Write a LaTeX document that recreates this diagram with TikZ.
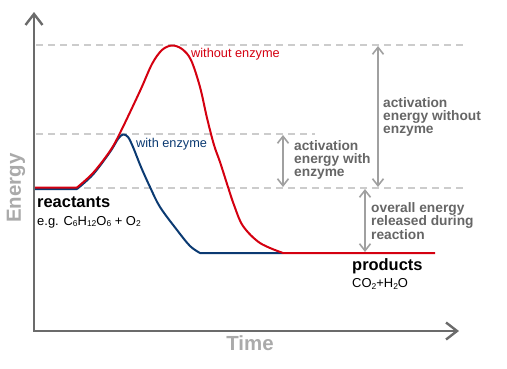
\documentclass[tikz,border=0pt]{standalone}
\usepackage{fontspec}
\setmainfont{Liberation Sans}
\usetikzlibrary{arrows.meta}

\definecolor{axisgray}{HTML}{6B6B6B}
\definecolor{dashgray}{HTML}{CCCCCC}
\definecolor{arrowgray}{HTML}{A0A0A0}
\definecolor{labelgray}{HTML}{666666}
\definecolor{titlegray}{HTML}{AAAAAA}
\definecolor{curvered}{HTML}{D40010}
\definecolor{curveblue}{HTML}{0B3A72}

\newcommand{\lowsub}[1]{\raisebox{-0.25ex}{\fontsize{8.5}{8.5}\selectfont #1}}

\begin{document}
\begin{tikzpicture}[x=1bp,y=-1bp,
  axis/.style={line width=2.4bp,axisgray,{Straight Barb[length=11bp,width=17bp]}-{Straight Barb[length=11bp,width=17bp]}},
  level/.style={dashgray,line width=1.2bp,dash pattern=on 7bp off 5bp},
  gap/.style={arrowgray,line width=1.6bp,{Straight Barb[length=7bp,width=11bp]}-{Straight Barb[length=7bp,width=11bp]}},
  gaptext/.style={anchor=west,align=left,inner sep=0pt,text=labelgray,font=\fontsize{13.8}{13.2}\selectfont\bfseries},
  curvetext/.style={anchor=west,inner sep=0pt,font=\fontsize{12.8}{14}\selectfont},
  statetext/.style={anchor=west,inner sep=0pt,font=\fontsize{16.5}{18}\selectfont\bfseries},
  formula/.style={anchor=west,inner sep=0pt,font=\fontsize{13}{14}\selectfont},
  axistext/.style={inner sep=0pt,text=titlegray,font=\fontsize{20.5}{22}\selectfont\bfseries}]

\useasboundingbox (0,0) rectangle (507,368);

% energy levels
\draw[level] (36,45) -- (463,45);
\draw[level] (36,134) -- (315,134);
\draw[level] (36,188) -- (463,188);

% axes
\coordinate (ytip) at (34,12);
\coordinate (origin) at (34,331);
\coordinate (xtip) at (459,331);
\draw[axis] (ytip) -- (origin) -- (xtip);
\node[axistext,rotate=90] (energy) at (16,188) {Energy};
\node[axistext] (time) at (250,343) {Time};

% with enzyme
\draw[curveblue,line width=2bp,line join=round] (35,189) -- (77,189)
  plot[smooth,tension=0.55] coordinates {(77,189) (93,174.5) (110,152) (118,139) (123,134.5) (128,137) (133,147) (141,167) (150,187) (160,207) (177,230) (190,246) (200,253)}
  -- (283,253);

% without enzyme
\draw[curvered,line width=2bp,line join=round] (35,187.5) -- (77,187.5)
  plot[smooth,tension=0.55] coordinates {(77,187.5) (93,173) (110,151) (120,133) (140,91) (152,64) (162,50) (172,45.5) (182,49) (191,60) (200,87) (207,118) (214,145) (220,162) (228,187) (234,205) (243,226) (260,243) (283,253)}
  -- (435,253);

\node[curvetext,text=curvered] (without) at (191,54) {without enzyme};
\node[curvetext,text=curveblue] (with) at (136,144) {with enzyme};

% energy differences
\coordinate (bigtop) at (378,46);
\coordinate (bigbot) at (378,187);
\coordinate (smalltop) at (283,135);
\coordinate (smallbot) at (283,187);
\coordinate (reltop) at (365,189);
\coordinate (relbot) at (365,252);
\draw[gap] (bigtop) -- (bigbot);
\draw[gap] (smalltop) -- (smallbot);
\draw[gap] (reltop) -- (relbot);

\node[gaptext] (bigtext) at (383,117) {activation\\energy without\\enzyme};
\node[gaptext] (smalltext) at (294,160) {activation\\energy with\\enzyme};
\node[gaptext] (reltext) at (371,221) {overall energy\\released during\\reaction};

% states
\node[statetext] (reactants) at (37,202) {reactants};
\node[formula] (eg) at (37,222) {e.g. C\lowsub{6}H\lowsub{12}O\lowsub{6} + O\lowsub{2}};
\node[statetext] (products) at (352,266) {products};
\node[formula] (co2) at (352,284) {CO\lowsub{2}+H\lowsub{2}O};

\end{tikzpicture}
\end{document}
